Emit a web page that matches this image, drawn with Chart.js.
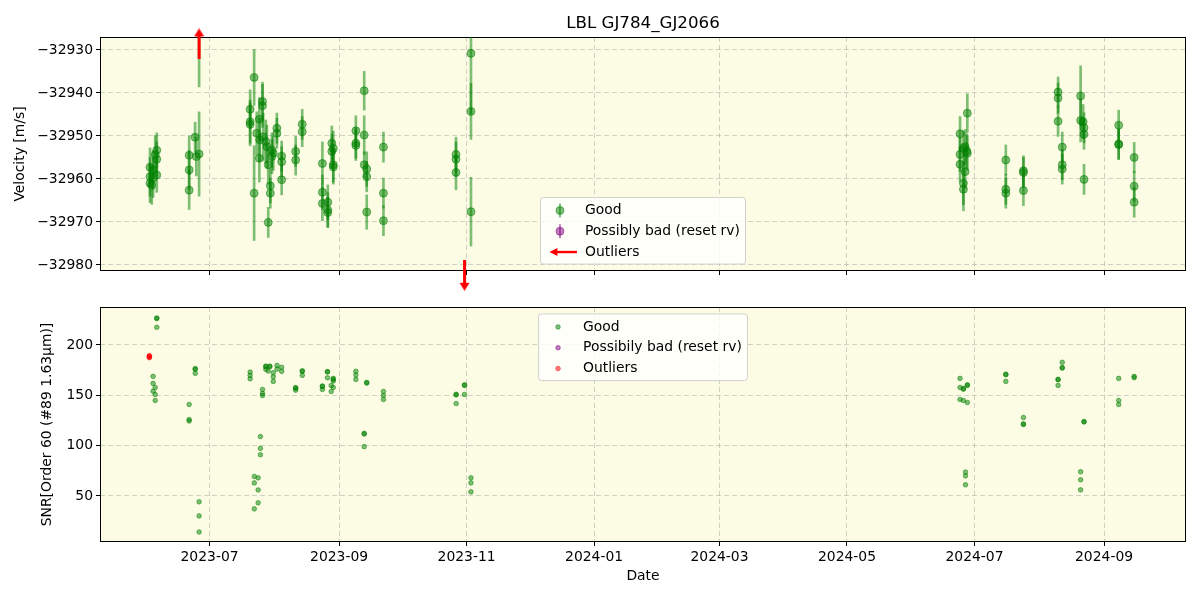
<!DOCTYPE html>
<html>
<head>
<meta charset="utf-8">
<title>LBL GJ784_GJ2066</title>
<script src="https://cdn.jsdelivr.net/npm/chart.js@4.4.1/dist/chart.umd.min.js"></script>
<style>
  html, body { margin: 0; padding: 0; background: #fff; }
  #wrap { position: relative; width: 1200px; height: 600px; }
  #wrap canvas { position: absolute; left: 0; }
  #velChart { top: 0; }
  #snrChart { top: 300px; }
</style>
</head>
<body>
<div id="wrap">
  <canvas id="velChart" width="1200" height="300"></canvas>
  <canvas id="snrChart" width="1200" height="300"></canvas>
</div>
<script>
// ---- values ----
const monthTicks = ['2023-07-01', '2023-09-01', '2023-11-01', '2024-01-01', '2024-03-01', '2024-05-01', '2024-07-01', '2024-09-01'];
const xRange = ['2023-05-09 14', '2024-10-10 05'];

const velTicks = [-32980, -32970, -32960, -32950, -32940, -32930];
const velRange = [-32981.4, -32927.0];

const velDates = [
  '2023-06-02 12', '2023-06-02 12', '2023-06-02 12', '2023-06-03 08', '2023-06-04 00', '2023-06-04 00', '2023-06-05 00', '2023-06-05 18', '2023-06-05 18', '2023-06-05 18',
  '2023-06-21 06', '2023-06-21 06', '2023-06-21 06', '2023-06-24 02', '2023-06-24 16', '2023-06-26 00', '2023-06-26 00',
  '2023-07-20 10', '2023-07-20 10', '2023-07-20 10', '2023-07-22 08', '2023-07-22 08', '2023-07-23 14', '2023-07-24 20', '2023-07-24 20', '2023-07-26 08', '2023-07-26 08',
  '2023-07-25 00', '2023-07-26 16', '2023-07-27 22', '2023-07-28 10', '2023-07-29 02', '2023-07-29 02', '2023-07-30 02', '2023-07-30 02', '2023-07-30 20', '2023-07-31 12', '2023-07-30 20',
  '2023-08-02 05', '2023-08-02 05', '2023-08-04 12', '2023-08-04 12', '2023-08-04 12', '2023-08-11 05', '2023-08-11 05', '2023-08-14 08', '2023-08-14 08',
  '2023-08-24 00', '2023-08-24 00', '2023-08-24 00', '2023-08-26 14', '2023-08-26 14', '2023-08-26 14', '2023-08-28 12', '2023-08-28 12', '2023-08-29 05', '2023-08-29 05', '2023-08-29 05',
  '2023-09-09 00', '2023-09-09 00', '2023-09-09 00', '2023-09-13 00', '2023-09-13 00', '2023-09-13 00', '2023-09-14 05', '2023-09-14 05', '2023-09-14 05', '2023-09-22 05', '2023-09-22 05', '2023-09-22 05',
  '2023-10-26 22', '2023-10-26 22', '2023-10-26 22', '2023-11-03 02', '2023-11-03 02', '2023-11-03 02',
  '2024-06-24 02', '2024-06-24 02', '2024-06-24 02', '2024-06-25 17', '2024-06-25 17', '2024-06-26 12', '2024-06-25 17', '2024-06-26 12', '2024-06-27 08', '2024-06-27 14', '2024-06-27 14',
  '2024-07-16 00', '2024-07-16 00', '2024-07-16 00', '2024-07-24 10', '2024-07-24 10', '2024-07-24 10',
  '2024-08-10 00', '2024-08-10 00', '2024-08-10 00', '2024-08-12 00', '2024-08-12 00', '2024-08-12 00',
  '2024-08-20 19', '2024-08-20 19', '2024-08-22 00', '2024-08-22 10', '2024-08-22 10', '2024-08-22 10',
  '2024-09-08 00', '2024-09-08 00', '2024-09-08 00', '2024-09-15 10', '2024-09-15 10', '2024-09-15 10'
];
const velValues = [
  -32957.3, -32959.5, -32961.0, -32961.4, -32957.9, -32959.8, -32954.4, -32953.3, -32955.4, -32959.1,
  -32954.5, -32957.9, -32962.6, -32950.3, -32954.8, -32954.2, -32918.0,
  -32943.8, -32946.7, -32947.3, -32936.4, -32963.3, -32949.4, -32946.1, -32955.2, -32942.0, -32943.0,
  -32950.9, -32950.2, -32951.3, -32952.5, -32956.7, -32970.1, -32961.6, -32963.3, -32954.8, -32954.0, -32953.3,
  -32948.2, -32949.4, -32954.7, -32956.0, -32960.2, -32953.6, -32955.6, -32947.3, -32949.0,
  -32956.4, -32963.1, -32965.7, -32965.4, -32967.2, -32967.8, -32951.7, -32953.6, -32952.9, -32956.7, -32957.2,
  -32948.8, -32951.7, -32952.2, -32939.5, -32949.8, -32956.7, -32957.7, -32959.5, -32967.7, -32952.6, -32963.3, -32969.7,
  -32954.3, -32955.4, -32958.5, -32930.8, -32944.3, -32967.6,
  -32949.5, -32954.3, -32956.6, -32962.4, -32961.0, -32958.3, -32952.9, -32952.5, -32953.5, -32944.7, -32954.0,
  -32955.6, -32962.4, -32963.3, -32958.1, -32958.5, -32962.7,
  -32939.8, -32941.2, -32946.6, -32952.6, -32956.7, -32957.7,
  -32940.7, -32946.4, -32946.7, -32948.1, -32949.6, -32960.1,
  -32947.5, -32951.9, -32952.0, -32955.0, -32961.7, -32965.4
];
const velErrors = [
  4.5, 4.5, 4.5, 4.5, 4.5, 4.5, 4.5, 4, 4, 4,
  4.5, 4.5, 4.5, 3.5, 4.5, 9.8, 20.6,
  4.5, 5, 5, 6.5, 11, 5, 5, 5.5, 4.5, 5,
  5, 5.5, 5, 5, 4.5, 3.5, 4, 3.5, 4, 4, 4,
  3.5, 3.5, 3.5, 3.5, 3.5, 3.5, 3.5, 3.5, 3.5,
  5, 4, 4, 4, 4, 3.5, 4, 4, 4, 4, 4,
  3.5, 3.5, 3.5, 4.5, 4.5, 3, 4, 3.5, 4, 3.5, 3.5, 3.5,
  4, 4, 4, 14, 6.5, 8,
  4, 4, 4, 5, 5, 4, 4, 4, 4, 4.5, 4,
  3.5, 3.5, 3.5, 3.5, 3.5, 3.5,
  3.5, 3.5, 3.5, 3.5, 3.5, 3.5,
  7, 5, 4, 3.5, 3.5, 3.5,
  3.5, 3.5, 3.5, 3.5, 3.5, 3.5
];

// outliers lie off the velocity axis: arrows sit on the panel edge
const outlierDates = ['2023-06-26 00', '2023-10-31 00'];
const outlierEdgeValues = [-32928.6, -32982.4];
const outlierDirs = ['up', 'down'];

const snrTicks = [50, 100, 150, 200];
const snrRange = [4.3, 237.7];

const snrDates = [
  '2023-06-05 18', '2023-06-05 18', '2023-06-05 18',
  '2023-06-04 00', '2023-06-04 00', '2023-06-05 00', '2023-06-04 00', '2023-06-05 00', '2023-06-05 00',
  '2023-06-21 06', '2023-06-21 06', '2023-06-21 06',
  '2023-06-24 04', '2023-06-24 04', '2023-06-24 04',
  '2023-06-26 00', '2023-06-26 00', '2023-06-26 00',
  '2023-07-20 10', '2023-07-20 10', '2023-07-20 10',
  '2023-07-26 08', '2023-07-26 08', '2023-07-26 08',
  '2023-07-25 08', '2023-07-25 08', '2023-07-25 08',
  '2023-07-22 10', '2023-07-22 10', '2023-07-22 10',
  '2023-07-24 06', '2023-07-24 06', '2023-07-24 06',
  '2023-07-27 22', '2023-07-27 22', '2023-07-27 22',
  '2023-07-29 20', '2023-07-29 20', '2023-07-29 02',
  '2023-07-31 12', '2023-07-31 12', '2023-07-31 12',
  '2023-08-02 07', '2023-08-02 07', '2023-08-04 12', '2023-08-04 12',
  '2023-08-11 05', '2023-08-11 05', '2023-08-11 05',
  '2023-08-14 09', '2023-08-14 09', '2023-08-14 09',
  '2023-08-24 00', '2023-08-24 00', '2023-08-24 00',
  '2023-08-26 10', '2023-08-26 10', '2023-08-26 10',
  '2023-08-28 05', '2023-08-28 05',
  '2023-08-29 05', '2023-08-29 05', '2023-08-29 05', '2023-08-29 05',
  '2023-09-09 00', '2023-09-09 00', '2023-09-09 00',
  '2023-09-14 05', '2023-09-14 05',
  '2023-09-13 00', '2023-09-13 00', '2023-09-13 00',
  '2023-09-22 05', '2023-09-22 05', '2023-09-22 05',
  '2023-10-27 00', '2023-10-27 00', '2023-10-27 00',
  '2023-10-31 00', '2023-10-31 00', '2023-10-31 00',
  '2023-11-03 02', '2023-11-03 02', '2023-11-03 02',
  '2024-06-24 02', '2024-06-24 02', '2024-06-24 02',
  '2024-06-25 17', '2024-06-25 17', '2024-06-25 17',
  '2024-06-27 14', '2024-06-27 14', '2024-06-27 14',
  '2024-06-26 17', '2024-06-26 17', '2024-06-26 17',
  '2024-07-16 00', '2024-07-16 00', '2024-07-16 00',
  '2024-07-24 10', '2024-07-24 10', '2024-07-24 10',
  '2024-08-10 00', '2024-08-10 00', '2024-08-10 00',
  '2024-08-12 00', '2024-08-12 00', '2024-08-12 00',
  '2024-08-20 19', '2024-08-20 19', '2024-08-20 19',
  '2024-08-22 10', '2024-08-22 10',
  '2024-09-08 00', '2024-09-08 00', '2024-09-08 00',
  '2024-09-15 10', '2024-09-15 10'
];
const snrValues = [
  226.2, 226.8, 217.6,
  168.8, 161.8, 157.8, 154.1, 150.8, 144.9,
  140.9, 125.9, 124.5,
  175.8, 176.5, 171.8,
  44.2, 30.2, 14.2,
  173.1, 169.8, 166.4,
  155.8, 151.8, 149.8,
  109.0, 97.3, 91.0,
  69.4, 63.0, 37.2,
  68.0, 56.0, 43.2,
  178.4, 179.0, 175.8,
  178.4, 179.0, 174.1,
  172.4, 168.4, 163.8,
  179.7, 176.0, 177.8, 173.8,
  157.1, 157.6, 155.1,
  173.8, 174.3, 169.8,
  158.8, 159.3, 155.8,
  173.1, 173.6, 167.4,
  159.8, 153.8,
  166.8, 165.8, 164.2, 157.8,
  173.8, 170.1, 165.8,
  162.1, 162.8,
  111.6, 112.2, 99.0,
  153.8, 149.8, 145.9,
  150.4, 151.0, 141.8,
  159.8, 160.4, 150.8,
  68.0, 63.0, 54.1,
  166.8, 157.8, 145.9,
  156.1, 156.8, 144.9,
  159.8, 160.5, 142.9,
  73.7, 70.0, 61.1,
  170.4, 171.0, 163.8,
  127.9, 121.0, 121.6,
  165.4, 166.0, 159.8,
  182.8, 177.0, 177.6,
  74.1, 66.1, 56.1,
  123.5, 124.0,
  166.8, 144.9, 140.9,
  168.8, 167.5
];

const snrOutlierDates = ['2023-06-02 05', '2023-06-02 05', '2023-06-02 05', '2023-06-02 05'];
const snrOutlierValues = [189.4, 188.7, 188.0, 187.4];

// ---- styling ----
const FONT = 'DejaVu Sans';
const FS = 13.9;
const GREEN = 'rgba(0,128,0,0.5)';
const PURPLE = 'rgba(128,0,128,0.5)';
const RED_A = 'rgba(255,0,0,0.5)';
const PANEL_BG = 'rgb(252,252,228)';
const GRID = 'rgba(150,150,150,0.42)';

Chart.defaults.font.family = FONT;
Chart.defaults.color = '#000';

function toMs(s) {
  const [d, h] = s.split(' ');
  const [Y, M, D] = d.split('-').map(Number);
  return Date.UTC(Y, M - 1, D, h ? Number(h) : 0);
}

function fmtNum(v) {
  return v < 0 ? '\u2212' + Math.abs(v) : String(v);
}

function fmtMonth(v) {
  const d = new Date(v);
  return d.getUTCFullYear() + '-' + String(d.getUTCMonth() + 1).padStart(2, '0');
}

function makeArrow(dir) {
  const c = document.createElement('canvas');
  c.width = 11; c.height = 31;
  const g = c.getContext('2d');
  g.fillStyle = '#ff0000';
  if (dir === 'down') { g.translate(0, 31); g.scale(1, -1); }
  g.beginPath();
  g.moveTo(5.5, 0); g.lineTo(10.5, 8); g.lineTo(7, 8); g.lineTo(7, 31);
  g.lineTo(4, 31); g.lineTo(4, 8); g.lineTo(0.5, 8); g.closePath();
  g.fill();
  return c;
}
const arrowImgs = { up: makeArrow('up'), down: makeArrow('down') };

function xAxis(showLabels, height) {
  return {
    type: 'linear',
    offset: false,
    min: toMs(xRange[0]),
    max: toMs(xRange[1]),
    afterBuildTicks: s => { s.ticks = monthTicks.map(m => ({ value: toMs(m) })); },
    afterFit: s => { s.height = height; s.paddingLeft = 0; s.paddingRight = 0; },
    ticks: { display: showLabels, callback: fmtMonth, font: { size: FS }, padding: 3, maxRotation: 0, autoSkip: false },
    grid: { offset: false, color: GRID, lineWidth: 1, tickColor: '#000', tickLength: 4, tickWidth: 1, tickBorderDash: [] },
    border: { display: false, dash: [5, 3] },
    title: { display: showLabels, text: 'Date', font: { size: FS }, padding: { top: 4, bottom: 15 } }
  };
}

function yAxis(range, ticks, title, titlePad) {
  return {
    type: 'linear',
    beginAtZero: false,
    min: range[0],
    max: range[1],
    afterBuildTicks: s => { s.ticks = ticks.map(v => ({ value: v })); },
    afterFit: s => { s.width = 100; s.paddingTop = 0; s.paddingBottom = 0; },
    ticks: { callback: fmtNum, font: { size: FS }, padding: 3 },
    grid: { color: GRID, lineWidth: 1, tickColor: '#000', tickLength: 4, tickWidth: 1, tickBorderDash: [] },
    border: { display: false, dash: [5, 3] },
    title: { display: true, text: title, font: { size: FS }, padding: { top: titlePad, bottom: 0 } }
  };
}

// background, frame, title and in-panel legend
const panelPlugin = {
  id: 'panel',
  beforeDraw(chart) {
    const { ctx, chartArea: a } = chart;
    ctx.save();
    ctx.fillStyle = PANEL_BG;
    ctx.fillRect(a.left, a.top, a.right - a.left, a.bottom - a.top);
    ctx.restore();
  },
  beforeDatasetsDraw(chart) {
    const { ctx, chartArea: a } = chart;
    ctx.save();
    ctx.strokeStyle = '#000';
    ctx.lineWidth = 1;
    ctx.strokeRect(a.left + 0.5, a.top + 0.5, a.right - a.left - 1, a.bottom - a.top - 1);
    ctx.restore();
  },
  afterDraw(chart, args, o) {
    const { ctx, chartArea: a } = chart;
    ctx.save();
    if (o.title) {
      ctx.font = (FS * 1.2) + 'px "' + FONT + '"';
      ctx.fillStyle = '#000';
      ctx.textAlign = 'center';
      ctx.textBaseline = 'middle';
      ctx.fillText(o.title, (a.left + a.right) / 2, 24);
    }
    if (o.legend) drawLegend(ctx, a, o.legend);
    ctx.restore();
  }
};

function drawLegend(ctx, a, lg) {
  const pad = 0.4 * FS, handle = 2 * FS, gap = 0.8 * FS, rowH = 20.8;
  ctx.font = FS + 'px "' + FONT + '"';
  const textW = Math.max(...lg.items.map(it => ctx.measureText(it.label).width));
  const w = 2 * pad + handle + gap + textW;
  const h = 2 * pad + lg.items.length * rowH - (rowH - FS);
  const x = (a.left + a.right) / 2 - w / 2;
  const y = lg.where === 'lower' ? a.bottom - 0.5 * FS - h : a.top + 0.5 * FS;

  ctx.beginPath();
  ctx.roundRect(x, y, w, h, 3);
  ctx.fillStyle = 'rgba(255,255,255,0.8)';
  ctx.fill();
  ctx.strokeStyle = '#d0d0d0';
  ctx.lineWidth = 1;
  ctx.stroke();

  lg.items.forEach((it, i) => {
    const cy = y + pad + FS / 2 + 0.5 + i * rowH;
    const cx = x + pad + handle / 2;
    if (it.kind === 'errorbar') {
      ctx.strokeStyle = it.color;
      ctx.lineWidth = 2;
      ctx.beginPath(); ctx.moveTo(cx, cy - 7); ctx.lineTo(cx, cy + 7); ctx.stroke();
      ctx.beginPath(); ctx.arc(cx, cy, 4, 0, Math.PI * 2);
      ctx.fillStyle = it.color; ctx.fill();
      ctx.lineWidth = 1; ctx.stroke();
    } else if (it.kind === 'arrow') {
      ctx.fillStyle = it.color;
      ctx.fillRect(cx - 3, cy - 1.2, 20, 2.4);
      ctx.beginPath();
      ctx.moveTo(cx - 10.5, cy); ctx.lineTo(cx - 2.5, cy - 4); ctx.lineTo(cx - 2.5, cy + 4); ctx.closePath();
      ctx.fill();
    } else {
      ctx.beginPath(); ctx.arc(cx, cy, 2.3, 0, Math.PI * 2);
      ctx.fillStyle = it.color; ctx.fill();
      ctx.strokeStyle = it.color; ctx.lineWidth = 1; ctx.stroke();
    }
    ctx.fillStyle = '#000';
    ctx.textAlign = 'left';
    ctx.textBaseline = 'middle';
    ctx.fillText(it.label, x + pad + handle + gap, cy);
  });
}

// ---- velocity panel ----
const velPoints = velDates.map((d, i) => ({ x: toMs(d), y: velValues[i] }));
const velBars = velDates.map((d, i) => ({ x: toMs(d), y: [velValues[i] - velErrors[i], velValues[i] + velErrors[i]] }));
const outlierPoints = outlierDates.map((d, i) => ({ x: toMs(d), y: outlierEdgeValues[i] }));

new Chart(document.getElementById('velChart'), {
  type: 'scatter',
  data: {
    datasets: [
      {
        label: 'Outliers',
        data: outlierPoints,
        pointStyle: c => arrowImgs[outlierDirs[c.dataIndex]],
        pointRadius: 8,
        clip: false,
        order: 0
      },
      {
        label: 'Good',
        data: velPoints,
        backgroundColor: GREEN,
        borderColor: GREEN,
        pointRadius: 4,
        borderWidth: 1,
        order: 1
      },
      {
        label: 'Possibly bad (reset rv)',
        data: [],
        backgroundColor: PURPLE,
        borderColor: PURPLE,
        pointRadius: 4,
        order: 1
      },
      {
        type: 'bar',
        label: 'error',
        data: velBars,
        backgroundColor: GREEN,
        barThickness: 2,
        grouped: false,
        order: 2
      }
    ]
  },
  options: {
    responsive: false,
    devicePixelRatio: 1,
    animation: false,
    events: [],
    layout: { padding: { top: 37, right: 14, left: 0, bottom: 0 } },
    scales: {
      x: xAxis(false, 29),
      y: yAxis(velRange, velTicks, 'Velocity [m/s]', 12)
    },
    plugins: {
      legend: { display: false },
      tooltip: { enabled: false },
      panel: {
        title: 'LBL GJ784_GJ2066',
        legend: {
          where: 'lower',
          items: [
            { label: 'Good', color: GREEN, kind: 'errorbar' },
            { label: 'Possibly bad (reset rv)', color: PURPLE, kind: 'errorbar' },
            { label: 'Outliers', color: '#ff0000', kind: 'arrow' }
          ]
        }
      }
    }
  },
  plugins: [panelPlugin]
});

// ---- SNR panel ----
const snrPoints = snrDates.map((d, i) => ({ x: toMs(d), y: snrValues[i] }));
const snrOutlierPoints = snrOutlierDates.map((d, i) => ({ x: toMs(d), y: snrOutlierValues[i] }));

new Chart(document.getElementById('snrChart'), {
  type: 'scatter',
  data: {
    datasets: [
      {
        label: 'Outliers',
        data: snrOutlierPoints,
        backgroundColor: RED_A,
        borderColor: RED_A,
        pointRadius: 2.3,
        borderWidth: 1,
        order: 0
      },
      {
        label: 'Possibily bad (reset rv)',
        data: [],
        backgroundColor: PURPLE,
        borderColor: PURPLE,
        pointRadius: 2.3,
        order: 1
      },
      {
        label: 'Good',
        data: snrPoints,
        backgroundColor: GREEN,
        borderColor: GREEN,
        pointRadius: 2.3,
        borderWidth: 1,
        order: 2
      }
    ]
  },
  options: {
    responsive: false,
    devicePixelRatio: 1,
    animation: false,
    events: [],
    layout: { padding: { top: 7, right: 14, left: 0, bottom: 0 } },
    scales: {
      x: xAxis(true, 58),
      y: yAxis(snrRange, snrTicks, 'SNR[Order 60 (#89 1.63\u03bcm)]', 39)
    },
    plugins: {
      legend: { display: false },
      tooltip: { enabled: false },
      panel: {
        legend: {
          where: 'upper',
          items: [
            { label: 'Good', color: GREEN, kind: 'dot' },
            { label: 'Possibily bad (reset rv)', color: PURPLE, kind: 'dot' },
            { label: 'Outliers', color: RED_A, kind: 'dot' }
          ]
        }
      }
    }
  },
  plugins: [panelPlugin]
});
</script>
</body>
</html>
